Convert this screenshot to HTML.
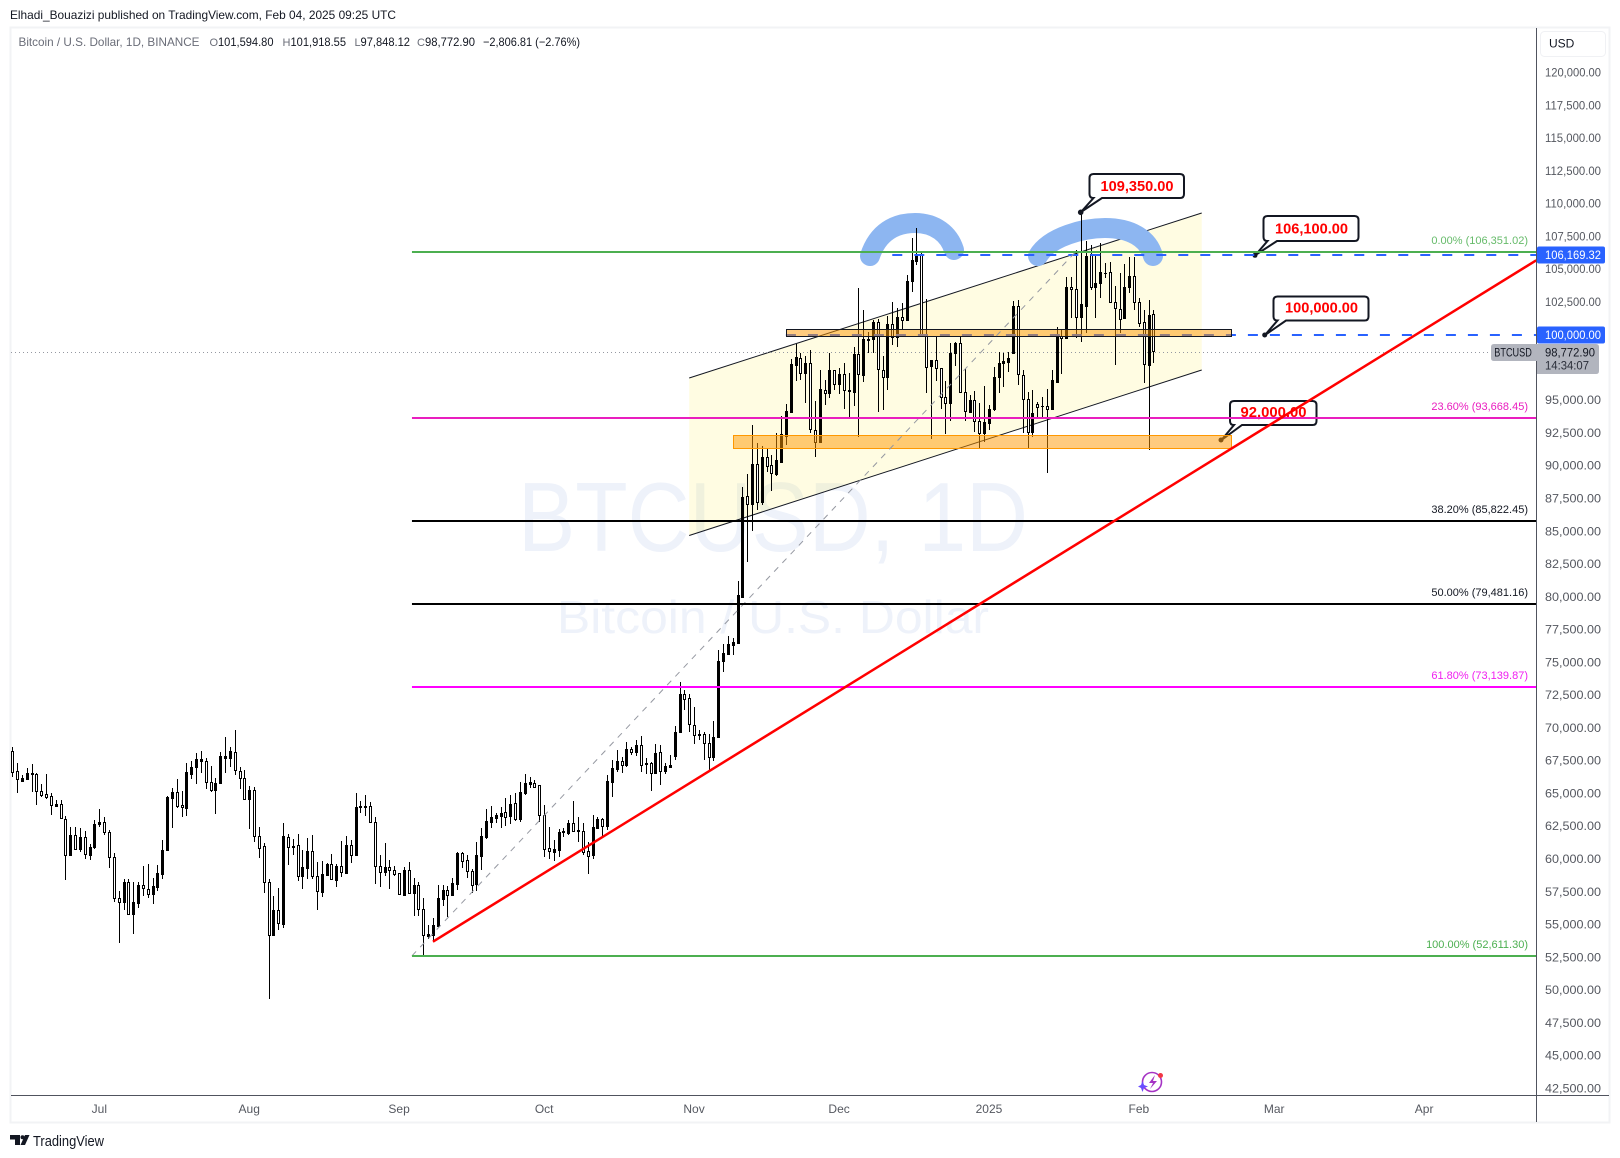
<!DOCTYPE html>
<html>
<head>
<meta charset="utf-8">
<title>BTCUSD 1D chart</title>
<style>
html,body{margin:0;padding:0;background:#fff;}
svg{display:block;}
text{font-family:"Liberation Sans",sans-serif;}
</style>
</head>
<body>
<svg id="chart" xmlns="http://www.w3.org/2000/svg" width="1620" height="1158" viewBox="0 0 1620 1158">
  <defs>
    <clipPath id="plot-clip"><rect x="11" y="28" width="1525.5" height="1067"/></clipPath>
  </defs>
  <rect x="0" y="0" width="1620" height="1158" fill="#ffffff"/>
  <text x="10" y="19" font-size="12" fill="#131722" textLength="386" lengthAdjust="spacingAndGlyphs">Elhadi_Bouazizi published on TradingView.com, Feb 04, 2025 09:25 UTC</text>
  <rect x="10.5" y="27.5" width="1599" height="1095" fill="none" stroke="#f2f3f5" stroke-width="2"/>

  <g fill="#eef2fa">
    <text x="518" y="551" font-size="98" textLength="510" lengthAdjust="spacingAndGlyphs">BTCUSD, 1D</text>
    <text x="557" y="633" font-size="46" textLength="432" lengthAdjust="spacingAndGlyphs">Bitcoin / U.S. Dollar</text>
  </g>

  <g clip-path="url(#plot-clip)">
    <g id="channel-layer"></g>
    <g fill="none" stroke="#8db6f1" stroke-width="20" stroke-linecap="round">
      <path d="M870 256 C878 232 895 223 915 223 C935 223 949 234 954 250"/>
      <path d="M1038 256 C1050 236 1085 228 1105 228 C1130 228 1148 238 1153 256"/>
    </g>
    <line id="last-price-line" stroke="#9598a1" stroke-width="1" stroke-dasharray="1 3"/>
    <g id="candle-layer"></g>

    <g>
      <g>
        <path d="M1093.5 174 H1180 Q1184 174 1184 178 V194 Q1184 198 1180 198 H1102 L1081 212 L1093.5 198 Q1089.5 198 1089.5 194 V178 Q1089.5 174 1093.5 174Z" fill="#fff" stroke="#131722" stroke-width="2"/>
        <circle cx="1080.7" cy="212.3" r="2.8" fill="#131722"/>
        <text x="1100.5" y="191" font-size="14.5" font-weight="bold" fill="#ff0000" textLength="73" lengthAdjust="spacingAndGlyphs">109,350.00</text>
      </g>
      <g>
        <path d="M1267.5 216 H1354.5 Q1358.5 216 1358.5 220 V237 Q1358.5 241 1354.5 241 H1277 L1255.5 255 L1267.5 241 Q1263.5 241 1263.5 237 V220 Q1263.5 216 1267.5 216Z" fill="#fff" stroke="#131722" stroke-width="2"/>
        <circle cx="1255" cy="255.3" r="2.5" fill="#131722"/>
        <text x="1275" y="233.5" font-size="14.5" font-weight="bold" fill="#ff0000" textLength="73" lengthAdjust="spacingAndGlyphs">106,100.00</text>
      </g>
      <g>
        <path d="M1277.5 296.5 H1364.5 Q1368.5 296.5 1368.5 300.5 V316.5 Q1368.5 320.5 1364.5 320.5 H1286 L1265 335 L1277.5 320.5 Q1273.5 320.5 1273.5 316.5 V300.5 Q1273.5 296.5 1277.5 296.5Z" fill="#fff" stroke="#131722" stroke-width="2"/>
        <circle cx="1264.7" cy="335" r="2.5" fill="#131722"/>
        <text x="1285" y="312.5" font-size="14.5" font-weight="bold" fill="#ff0000" textLength="73" lengthAdjust="spacingAndGlyphs">100,000.00</text>
      </g>
      <g>
        <path d="M1234 401 H1312.5 Q1316.5 401 1316.5 405 V421 Q1316.5 425 1312.5 425 H1242 L1221.5 440 L1234 425 Q1230 425 1230 421 V405 Q1230 401 1234 401Z" fill="#fff" stroke="#131722" stroke-width="2"/>
        <circle cx="1221" cy="440" r="2.5" fill="#131722"/>
        <text x="1240.5" y="417" font-size="14.5" font-weight="bold" fill="#ff0000" textLength="66" lengthAdjust="spacingAndGlyphs">92,000.00</text>
      </g>
    </g>

    <g id="hline-layer"></g>
    <g id="box-layer"></g>
    <line id="fib-trend" stroke="#9598a1" stroke-width="1" stroke-dasharray="6 6"/>
    <g id="fib-layer"></g>
    <line id="trendline" stroke="#ff0000" stroke-width="2.5"/>
  </g>

  <g font-size="12">
    <text x="18.5" y="46" fill="#6a6d78" textLength="181" lengthAdjust="spacingAndGlyphs">Bitcoin / U.S. Dollar, 1D, BINANCE</text>
    <text x="209.5" y="46" fill="#6a6d78" font-size="11">O</text>
    <text x="218" y="46" fill="#131722" textLength="55.5" lengthAdjust="spacingAndGlyphs">101,594.80</text>
    <text x="282.5" y="46" fill="#6a6d78" font-size="11">H</text>
    <text x="290.5" y="46" fill="#131722" textLength="55.5" lengthAdjust="spacingAndGlyphs">101,918.55</text>
    <text x="354.5" y="46" fill="#6a6d78" font-size="11">L</text>
    <text x="360.5" y="46" fill="#131722" textLength="49.5" lengthAdjust="spacingAndGlyphs">97,848.12</text>
    <text x="417" y="46" fill="#6a6d78" font-size="11">C</text>
    <text x="425" y="46" fill="#131722" textLength="50" lengthAdjust="spacingAndGlyphs">98,772.90</text>
    <text x="483" y="46" fill="#131722" textLength="97" lengthAdjust="spacingAndGlyphs">−2,806.81 (−2.76%)</text>
  </g>

  <line x1="11" y1="1095.5" x2="1609" y2="1095.5" stroke="#50535e" stroke-width="1"/>
  <line x1="1536.5" y1="28" x2="1536.5" y2="1122" stroke="#50535e" stroke-width="1"/>
  <g id="x-tick-layer" font-size="12" fill="#555860"></g>
  <g id="y-tick-layer" font-size="12" fill="#555860"></g>

  <g>
    <rect x="1540.5" y="31.5" width="65" height="25" rx="4" fill="#fff" stroke="#f0f1f4"/>
    <text x="1549" y="47.5" font-size="12" fill="#131722">USD</text>
  </g>
  <g id="tag-layer"></g>
  <g>
    <path d="M1494 344 H1537 V361 H1494 Q1491 361 1491 358 V347 Q1491 344 1494 344Z" fill="#b2b5be"/>
    <text x="1494.3" y="356.5" font-size="12" fill="#131722" textLength="37.5" lengthAdjust="spacingAndGlyphs">BTCUSD</text>
  </g>
  <g>
    <path d="M1537 344 H1596 Q1599 344 1599 347 V371 Q1599 374 1596 374 H1537Z" fill="#b2b5be"/>
    <text x="1545" y="356.5" font-size="12" fill="#131722" textLength="50" lengthAdjust="spacingAndGlyphs">98,772.90</text>
    <text x="1545" y="369.5" font-size="12" fill="#2a2e39" textLength="44" lengthAdjust="spacingAndGlyphs">14:34:07</text>
  </g>

  <g>
    <circle cx="1152" cy="1082" r="9.5" fill="none" stroke="#a533c4" stroke-width="1.6"/>
    <path d="M1155 1075 L1149 1083 H1153 L1150 1089 L1157 1081 H1153 Z" fill="#a533c4"/>
    <path d="M1142.5 1081 L1144 1085 L1148 1086.500 L1144 1088 L1142.500 1092 L1141 1088 L1138 1086.500 L1141 1085Z" fill="#6a4cff"/>
    <circle cx="1160.500" cy="1075.500" r="2.500" fill="#f23645"/>
  </g>

  <g>
    <path d="M10 1135 H20 V1145 H15 V1139.500 H10Z" fill="#131722"/>
    <circle cx="22.500" cy="1137.300" r="2" fill="#131722"/>
    <path d="M25 1135 H29.500 L25 1145 H20.500Z" fill="#131722"/>
    <text x="33" y="1146" font-size="14.500" fill="#131722" textLength="71" lengthAdjust="spacingAndGlyphs">TradingView</text>
  </g>
</svg>

<script>
const opens=[68212,66737,65974,66126,66508,66457,65160,64931,64779,64066,64168,63024,60277,61803,60786,61651,60329,60888,62693,62795,62032,60125,57007,56692,58218,55827,56666,57989,57684,57302,57887,58879,60685,64677,65084,64092,63914,66508,67042,67500,67449,65847,65287,65821,67728,67728,68135,66686,66152,64601,65236,61727,60964,58218,54225,56082,55064,61651,60888,61041,58726,59337,60583,58675,57506,58803,59591,58421,59439,58955,61041,60329,63965,63990,64016,62795,59439,59031,59362,59133,58904,57226,59133,57429,57989,56158,
54149,54200,54912,56972,57608,57277,58091,60456,59896,59083,58117,60229,61702,62847,63152,63279,63559,63304,64245,63075,65059,65746,65771,65618,63330,60812,60558,60685,62058,62007,62719,62160,62109,60583,60278,62338,63050,62541,65898,66890,67449,67144,68365,68161,68670,67246,67297,66585,68136,66737,67017,67856,69662,72561,72281,70196,69484,69509,68823,67805,69331,
75103,75637,76324,76502,80011,87691,87055,90132,87259,90641,90030,89344,90310,92294,94125,97711,98245,97049,97812,92701,91837,95753,95575,97278,96210,96973,95779,95651,98524,96923,99617,99643,100966,97278,96795,100787,99796,101321,101118,104119,105645,106077,100050,97635,98044,97431,95219,94761,98575,99338,95600,94125,95015,93388,92524,93285,94308,96745,97813,97940,98626,102186,96923,95066,92600,94685,94549,94575,94354,96414,99923,99720,103611,103458,101373,102212,106128,103662,103916,104704,104755,102517,101983,101296,103610,104449,102491,100940,97710,101594.80];
const highs=[68517,67296,66406,66915,67220,66533,65720,66457,65008,64499,64499,63278,62439,62439,62363,62134,61117,62948,63812,63177,62185,60430,57557,58472,58472,58218,58218,59464,59617,58548,59540,61447,64830,65389,66076,65186,67296,67474,68059,68212,67703,67093,66152,68135,69280,68517,69839,67042,66762,65567,65465,62414,61193,58472,57175,57786,62719,61880,61498,61880,60685,61574,61803,59794,59820,59718,60379,59591,61371,61752,61422,65008,64448,64880,64321,63177,60277,61193,59921,59464,58904,59362,59744,58523,58269,57007,
54963,55472,58015,58015,57939,58523,60507,60558,60278,59210,61321,62338,63813,64042,63482,63940,64627,64881,65059,65847,66483,66229,66025,65618,64118,62465,61448,62312,62338,62974,64423,63228,62719,61270,63330,63228,63101,66407,67551,68314,67805,68899,68517,69077,69382,67678,67424,68772,68695,67348,67907,70170,73476,72891,72586,71594,69840,69662,69535,70526,75942,
76375,77011,76833,81207,88352,89344,93108,91709,91505,91327,90819,92472,93794,94684,98143,99287,98630,98372,98829,94939,97304,96540,98575,97304,97431,97812,97049,99082,103534,101881,100228,101118,101169,98372,101423,102491,102008,102390,104551,107349,108111,106200,102695,98067,99847,97431,96464,99389,99465,99847,97355,95396,95701,94760,96083,94660,97559,98703,98627,98703,102593,102644,97304,95651,95778,94892,95269,95829,97304,100559,100406,104424,104424,106459,109350,107145,106840,106077,106968,105442,105569,103712,104678,105390,105950,105950,102771,101881,102643,101918.55];
const lows=[66279,65058,65898,66025,65135,64118,64753,64550,63354,63990,63075,58396,60252,60685,60557,60023,59947,60735,62465,61803,59337,56717,53615,56107,55751,54301,56285,57201,57007,56565,57582,58472,60634,62388,63889,63227,63278,66126,65720,66584,65338,65135,63431,65745,66584,66991,66406,65338,64524,62286,61320,60099,57404,49343,54200,54581,54734,59540,60303,58320,57709,58472,58497,56107,57099,58803,58396,57862,58650,58853,59693,60303,63533,63304,62770,58091,57887,58726,57709,58726,57277,57201,57404,55675,55675,52598,
53870,53692,54836,56413,55599,57252,57633,59312,58523,57430,57557,59159,61524,62389,62770,62389,62541,62668,62923,62795,64856,65415,65440,62821,60176,59998,59846,60176,61702,61829,62058,61321,60304,58854,59998,62338,61702,62211,64754,66610,66534,66992,67933,67856,66636,66483,65211,66483,65644,66483,66915,67551,69585,71366,69713,68797,69077,67551,66788,67500,69300,
74290,75560,75561,76450,79935,82681,85046,86623,87005,89550,88072,89242,90310,91582,94049,96464,96541,94812,92472,90692,91786,94634,95153,95778,95447,94329,93667,94557,92218,96400,98575,98575,94125,94252,95778,99211,99084,100406,101067,103280,105315,99974,95575,92040,96464,94329,92421,93438,97634,95575,93438,93998,92600,91250,91837,92728,94206,95574,96000,97177,98600,96160,92473,91303,92218,93744,93744,89421,94303,96414,96999,99720,101246,99720,99466,100101,103408,101297,102771,104297,102517,97686,100152,101245,103203,101881,100609,96286,91200,97848.12];
const closes=[66660,66076,66152,66533,66559,65160,64906,64753,64092,64168,63100,60277,61803,60786,61651,60354,60888,62643,62821,62032,60125,57007,56692,58218,55827,56692,57989,57760,57302,57912,58904,60659,64702,65084,64066,63939,66610,67017,67601,67601,65847,65287,65770,67830,67830,68212,66762,66152,64575,65236,61727,60862,58218,54174,56082,55090,61727,60888,60989,58675,59362,60583,58675,57531,58828,59616,58446,59439,58981,61041,60329,63939,64041,64041,62795,59439,58981,59362,59133,58879,57302,59133,57429,57989,56158,54174,
54251,54938,57023,57633,57277,58167,60456,59871,59108,58040,60304,61753,62872,63177,63355,63508,63228,64194,63075,65084,65771,65847,65491,63330,60787,60583,60736,62033,62109,62745,62160,62211,60558,60253,62414,63050,62541,65924,66941,67449,67170,68365,68187,68670,67195,67297,66585,68060,66737,67068,67195,69662,72561,72230,70272,69484,69535,68823,67805,69331,75103,
75688,76400,76553,80138,87590,87106,90107,87208,90641,90005,89420,90412,92421,94176,97762,98270,97049,97812,92778,91837,95829,95575,97278,96210,96973,95753,95728,98524,96973,99668,99668,100966,97355,96795,100813,99847,101372,101143,104093,105696,106077,100050,97558,98067,97431,95219,94761,98600,99338,95600,94151,95015,93388,92524,93311,94308,96745,97813,97991,98194,102186,96974,95066,92600,94049,94456,94575,94354,96541,99923,99720,103611,103458,101322,102314,105999,103611,103916,104755,104730,102517,102009,101220,103635,104475,102517,100915,97761,101499,98772.90];

const priceTicks=[120000,117500,115000,112500,110000,107500,105000,102500,100000,97500,95000,92500,90000,87500,85000,82500,80000,77500,75000,72500,70000,67500,65000,62500,60000,57500,55000,52500,50000,47500,45000,42500];
const timeTickLabels=["Jul","Aug","Sep","Oct","Nov","Dec","2025","Feb","Mar","Apr"];
const timeTickBars=[18,49,80,110,141,171,202,233,261,292];

const fibPrices=[106351.02,93668.45,85822.45,79481.16,73139.87,52611.30];
const fibRatios=["0.00%","23.60%","38.20%","50.00%","61.80%","100.00%"];
const fibColors=["#4caf50","#e91ebf","#000000","#000000","#ff00ff","#4caf50"];
const fibLabelColors=["#66bb6a","#e91ebf","#131722","#131722","#f01ff0","#4caf50"];
const fibStartBar=82.66;
const fibEndBar=220;

const dashedPrices=[106169.32,100000];
const dashedStartBars=[182,160];

const channelBars=[140,246];
const channelUpper=[96693,109281];
const channelLower=[84678,97304];

const zoneBars=[[160,252],[149,252]];
const zonePrices=[[100408,99875],[92322,91330]];

const trendBars=[87,315.2];
const trendPrices=[53688,105673];

const SVGNS="http://www.w3.org/2000/svg";
const xScale=i=>12.3+4.835*i;
const yScale=p=>72.5+(120000-p)*0.013108;
const fmt=v=>v.toLocaleString("en-US",{minimumFractionDigits:2,maximumFractionDigits:2});
function mk(tag,parent){const n=document.createElementNS(SVGNS,tag);parent.appendChild(n);return n;}

/* channel */
const chLayer=document.getElementById("channel-layer");
const chFill=mk("polygon",chLayer);


chFill.setAttribute("points",[
  xScale(channelBars[0])+","+yScale(channelUpper[0]),
  xScale(channelBars[1])+","+yScale(channelUpper[1]),
  xScale(channelBars[1])+","+yScale(channelLower[1]),
  xScale(channelBars[0])+","+yScale(channelLower[0])].join(" "));
chFill.setAttribute("fill","rgba(255,235,59,0.15)");
const chUp=mk("line",chLayer);


chUp.setAttribute("x1",xScale(channelBars[0]));chUp.setAttribute("y1",yScale(channelUpper[0]));
chUp.setAttribute("x2",xScale(channelBars[1]));chUp.setAttribute("y2",yScale(channelUpper[1]));
chUp.setAttribute("stroke","#131722");chUp.setAttribute("stroke-width","1");
const chLo=mk("line",chLayer);


chLo.setAttribute("x1",xScale(channelBars[0]));chLo.setAttribute("y1",yScale(channelLower[0]));
chLo.setAttribute("x2",xScale(channelBars[1]));chLo.setAttribute("y2",yScale(channelLower[1]));
chLo.setAttribute("stroke","#131722");chLo.setAttribute("stroke-width","1");

/* last price line */
const lastClose=closes[closes.length-1];
const lpl=document.getElementById("last-price-line");
lpl.setAttribute("x1",11);lpl.setAttribute("x2",1491);
lpl.setAttribute("y1",Math.round(yScale(lastClose))+1.5);
lpl.setAttribute("y2",Math.round(yScale(lastClose))+1.5);

/* candles */
const cLayer=document.getElementById("candle-layer");
for(let i=0;i<opens.length;i++){
  const cx=Math.round(xScale(i));
  const up=closes[i]>=opens[i];
  const top=Math.round(yScale(Math.max(opens[i],closes[i])));
  const bot=Math.round(yScale(Math.min(opens[i],closes[i])));
  const hi=Math.round(yScale(highs[i]));
  const lo=Math.round(yScale(lows[i]));
  const g=mk("g",cLayer);
  
  
  const w=mk("rect",g);
  
  
  w.setAttribute("x",cx);w.setAttribute("y",hi);w.setAttribute("width",1);w.setAttribute("height",Math.max(1,lo-hi));
  w.setAttribute("fill","#000");
  const b=mk("rect",g);
  
  
  if(up){
    b.setAttribute("x",cx-1);b.setAttribute("y",top);b.setAttribute("width",3);b.setAttribute("height",Math.max(1,bot-top+1));
    b.setAttribute("fill","#000");
  }else{
    b.setAttribute("x",cx-0.5);b.setAttribute("y",top+0.5);b.setAttribute("width",2);b.setAttribute("height",Math.max(1,bot-top));
    b.setAttribute("fill","#fff");b.setAttribute("stroke","#000");b.setAttribute("stroke-width","1");
  }
}

/* dashed levels */
const hLayer=document.getElementById("hline-layer");
dashedPrices.forEach((p,k)=>{
  const l=mk("line",hLayer);
  
  
  const y=Math.round(yScale(p)+0.8);
  l.setAttribute("x1",xScale(dashedStartBars[k]));l.setAttribute("x2",1536);
  l.setAttribute("y1",y);l.setAttribute("y2",y);
  l.setAttribute("stroke","#2962ff");l.setAttribute("stroke-width","2");l.setAttribute("stroke-dasharray","10 12");
});

/* zones */
const bLayer=document.getElementById("box-layer");
zoneBars.forEach((bars,k)=>{
  const r=mk("rect",bLayer);
  
  
  const x0=Math.round(xScale(bars[0]))+0.5,x1=Math.round(xScale(bars[1]))+0.5;
  const y0=Math.round(yScale(zonePrices[k][0]))+0.5,y1=Math.round(yScale(zonePrices[k][1]))+0.5;
  r.setAttribute("x",x0);r.setAttribute("y",y0);r.setAttribute("width",x1-x0);r.setAttribute("height",y1-y0);
  r.setAttribute("fill","rgba(255,152,0,0.5)");
  r.setAttribute("stroke",k===0?"#131722":"#ff9800");
  r.setAttribute("stroke-width","1");
});

/* fib */
const ft=document.getElementById("fib-trend");
ft.setAttribute("x1",xScale(fibStartBar));ft.setAttribute("y1",yScale(fibPrices[5]));
ft.setAttribute("x2",xScale(fibEndBar));ft.setAttribute("y2",yScale(fibPrices[0]));
const fLayer=document.getElementById("fib-layer");
fibPrices.forEach((p,k)=>{
  const y=Math.round(yScale(p)+0.6);
  const l=mk("line",fLayer);
  
  
  l.setAttribute("x1",xScale(fibStartBar));l.setAttribute("x2",1536);
  l.setAttribute("y1",y);l.setAttribute("y2",y);
  l.setAttribute("stroke",fibColors[k]);l.setAttribute("stroke-width","2");
  const t=mk("text",fLayer);
  
  
  t.setAttribute("x",1528);t.setAttribute("y",y-8);
  t.setAttribute("text-anchor","end");t.setAttribute("font-size","11");
  t.setAttribute("fill",fibLabelColors[k]);
  t.textContent=fibRatios[k]+" ("+fmt(p)+")";
});

/* trendline */
const tl=document.getElementById("trendline");
tl.setAttribute("x1",xScale(trendBars[0]));tl.setAttribute("y1",yScale(trendPrices[0]));
tl.setAttribute("x2",xScale(trendBars[1]));tl.setAttribute("y2",yScale(trendPrices[1]));

/* axis ticks */
const xLayer=document.getElementById("x-tick-layer");
timeTickLabels.forEach((s,k)=>{
  const t=mk("text",xLayer);
  
  
  t.setAttribute("x",xScale(timeTickBars[k]));t.setAttribute("y",1113);
  t.setAttribute("text-anchor","middle");
  t.textContent=s;
});
const yLayer=document.getElementById("y-tick-layer");
const lastTagY=yScale(lastClose);
priceTicks.forEach(p=>{
  const ty=yScale(p);
  if(ty>lastTagY-12&&ty<lastTagY+24)return;
  const t=mk("text",yLayer);
  
  
  t.setAttribute("x",1545);t.setAttribute("y",ty+4);
  t.setAttribute("textLength",56);t.setAttribute("lengthAdjust","spacingAndGlyphs");
  t.textContent=fmt(p);
});

/* blue price tags */
const tagLayer=document.getElementById("tag-layer");
dashedPrices.forEach(p=>{
  const y=Math.round(yScale(p)+0.8);
  const r=mk("rect",tagLayer);
  
  
  r.setAttribute("x",1537);r.setAttribute("y",y-8.5);r.setAttribute("width",68);r.setAttribute("height",17);r.setAttribute("rx",2);
  r.setAttribute("fill","#2962ff");
  const t=mk("text",tagLayer);
  
  
  t.setAttribute("x",1545);t.setAttribute("y",y+4);
  t.setAttribute("font-size","12");t.setAttribute("fill","#ffffff");
  t.setAttribute("textLength",56);t.setAttribute("lengthAdjust","spacingAndGlyphs");
  t.textContent=fmt(p);
});
</script>
</body>
</html>
